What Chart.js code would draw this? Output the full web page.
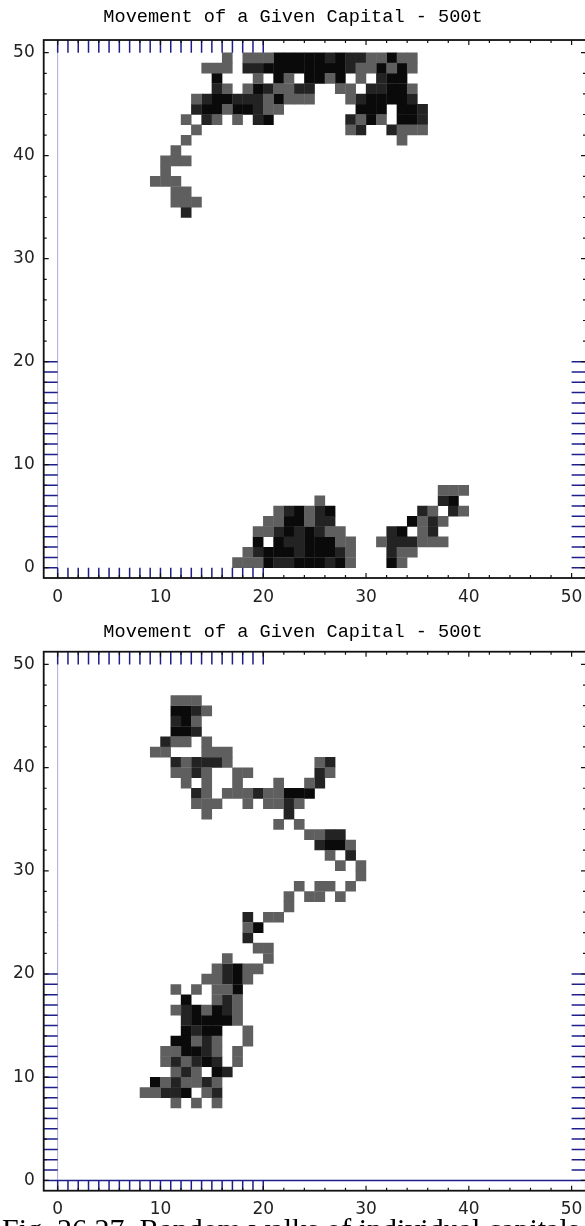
<!DOCTYPE html>
<html>
<head>
<meta charset="utf-8">
<script src="https://cdn.jsdelivr.net/npm/chart.js@4/dist/chart.umd.min.js"></script>
<style>
html,body{margin:0;padding:0;background:#fff;overflow:hidden;width:585px;height:1226px;position:relative;}
canvas{position:absolute;left:0;display:block;}
#c1{top:0;}
#c2{top:612px;}
#caption{position:absolute;left:2px;top:1214px;font-family:"Liberation Serif",serif;font-size:30px;line-height:30px;white-space:nowrap;color:#000;}
</style>
</head>
<body>
<canvas id="c1" width="600" height="612"></canvas>
<canvas id="c2" width="600" height="614"></canvas>
<div id="caption">Fig. 26.27. Random walks of individual capitals</div>
<script>
// ---------------- data ----------------
const titleText = "Movement of a Given Capital - 500t";
const xTicks = [0, 10, 20, 30, 40, 50];
const yTicks = [0, 10, 20, 30, 40, 50];

// cells given as [row, [columns...]] ; a cell covers [col,col+1] x [row,row+1]
const topGray = [
  [49,[16,18,19,20,30,31,33,34]],[48,[14,15,16,29,30,32,34]],[47,[19,22,26,29]],
  [46,[16,18,21,22,27,28,34]],[45,[13,20,22,23,24,28]],[44,[16,20,21]],
  [43,[12,15,17,29,31]],[42,[13,28,33,34,35]],[41,[12,33]],[40,[11]],
  [39,[10,11,12]],[38,[10]],[37,[9,10,11]],[36,[11,12]],[35,[11,12,13]],
  [7,[37,38,39]],[6,[25]],[5,[21,24,36,39]],[4,[20,21,24,35,37]],
  [3,[19,20,26,27,35]],[2,[27,28,31,35,36,37]],[1,[18,28,33,34]],[0,[17,18,19,28,33]]
];
const topDark = [
  [49,[26,28,29]],[48,[18,19,28]],[47,[31]],[46,[15,20,23,24,30,31]],
  [45,[14,17,18,19,29,34]],[44,[13,19,35]],[43,[14,19,28,35]],[42,[29,32]],[34,[12]],
  [6,[37]],[5,[22,25,35,38]],[4,[25,26,36]],[3,[21,23,25,32,36]],
  [2,[22,23,32,33,34]],[1,[19,23,27,32]],[0,[21,22,26]]
];
const topBlack = [
  [49,[21,22,23,24,25,27,32]],[48,[20,21,22,23,24,25,26,27,31,33]],
  [47,[15,21,24,25,27,32,33]],[46,[19,32,33]],[45,[15,16,21,30,31,32,33]],
  [44,[14,15,17,18,29,30,31,33,34]],[43,[20,30,33,34]],
  [6,[38]],[5,[23,26]],[4,[22,23,34]],[3,[22,24,33]],[2,[19,21,24,25,26]],
  [1,[20,21,22,24,25,26]],[0,[20,23,24,25,27,32]]
];

const botGray = [
  [46,[11,12,13]],[45,[14]],[44,[13]],[42,[11,12,14]],[41,[9,10,14,15,16]],
  [40,[12,16,25]],[39,[11,12,14,17,18,26]],[38,[12,14,17,21,24]],
  [37,[14,16,17,18,20,21]],[36,[13,14,15,18,20,21,23]],[35,[14]],[34,[21,23]],
  [33,[24,25]],[32,[28]],[31,[26]],[30,[27,29]],[29,[29]],[28,[23,25,26,28]],
  [27,[22,24,25,27]],[26,[22]],[25,[20,21]],[24,[18]],[22,[19,20]],[21,[16,20]],
  [20,[15,18,19]],[19,[14,15,18]],[18,[11,13,15,16]],[17,[15,17]],[16,[11,14,17]],
  [15,[17]],[14,[18]],[13,[13,15,18]],[12,[10,11,15,17]],[11,[10,12,17]],
  [10,[11,13]],[9,[10,12,13,15]],[8,[8,9,14]],[7,[11,13,15]]
];
const botDark = [
  [45,[13]],[44,[11]],[43,[13]],[42,[10]],[40,[11,13,14,15,26]],[39,[13,25]],
  [38,[25]],[37,[13,19]],[36,[22]],[35,[22]],[33,[26,27]],[32,[25]],[31,[28]],
  [25,[18]],[23,[18]],[20,[16]],[19,[16]],[17,[16]],[16,[12,16]],[15,[12]],
  [14,[13]],[13,[14]],[12,[14]],[11,[11,13,15]],[10,[12,16]],[9,[11,14]],[8,[10,11,15]]
];
const botBlack = [
  [45,[11,12]],[44,[12]],[43,[11,12]],[37,[22,23,24]],[32,[26,27]],[24,[19]],
  [20,[17]],[19,[17]],[18,[17]],[17,[12]],[16,[13,15]],[15,[13,14,15,16]],
  [14,[12,14,15]],[13,[11,12]],[12,[12,13]],[11,[14]],[10,[15]],[9,[9]],[8,[12]]
];

// ---------------- helpers ----------------
function toPoints(rows) {
  const pts = [];
  rows.forEach(([r, cols]) => cols.forEach(c => pts.push({x: c + 0.5, y: r + 0.5})));
  return pts;
}
function cellRadius(ctx) {
  const s = ctx.chart.scales.x;
  const side = Math.abs(s.getPixelForValue(1) - s.getPixelForValue(0)) + 0.4;
  return side * Math.SQRT1_2;
}
function cellDataset(rows, color) {
  return {
    data: toPoints(rows),
    pointStyle: 'rect',
    backgroundColor: color,
    borderWidth: 0,
    pointRadius: cellRadius,
    pointHoverRadius: cellRadius
  };
}

const NAVY = '#1e1e8a';

const decor = {
  id: 'decor',
  beforeDatasetsDraw(chart) {
    const {ctx, scales: {x, y}} = chart;
    ctx.save();
    ctx.strokeStyle = '#a9a9d8';
    ctx.lineWidth = 1;
    const x0 = x.getPixelForValue(0);
    ctx.beginPath();
    ctx.moveTo(x0, y.getPixelForValue(50));
    ctx.lineTo(x0, y.getPixelForValue(0));
    ctx.stroke();
    ctx.restore();
  },
  afterDatasetsDraw(chart, args, opts) {
    const {ctx, chartArea: a, scales: {x, y}} = chart;
    ctx.save();
    // blue marks in the margins between data range and frame
    ctx.strokeStyle = NAVY;
    ctx.lineWidth = 1.5;
    ctx.beginPath();
    for (let i = 0; i <= 20; i++) {
      const px = x.getPixelForValue(i);
      ctx.moveTo(px, a.top); ctx.lineTo(px, y.getPixelForValue(50));
      ctx.moveTo(px, y.getPixelForValue(0)); ctx.lineTo(px, a.bottom);
      const py = y.getPixelForValue(i);
      ctx.moveTo(a.left, py); ctx.lineTo(x.getPixelForValue(0), py);
      ctx.moveTo(x.getPixelForValue(50), py); ctx.lineTo(a.right, py);
    }
    if (opts && opts.zeroLine) {
      const py = y.getPixelForValue(0);
      ctx.moveTo(x.getPixelForValue(0), py); ctx.lineTo(a.right, py);
    }
    ctx.stroke();
    // frame
    ctx.strokeStyle = '#111';
    ctx.lineWidth = 1.8;
    ctx.strokeRect(a.left, a.top, a.right - a.left, a.bottom - a.top);
    // frame ticks (inward)
    ctx.lineWidth = 1.2;
    ctx.beginPath();
    for (let v = 0; v <= 50; v += 2) {
      const len = v % 10 === 0 ? 5 : 3;
      const px = x.getPixelForValue(v);
      ctx.moveTo(px, a.bottom); ctx.lineTo(px, a.bottom - len);
      ctx.moveTo(px, a.top); ctx.lineTo(px, a.top + len);
      const py = y.getPixelForValue(v);
      ctx.moveTo(a.left, py); ctx.lineTo(a.left + len, py);
      ctx.moveTo(a.right, py); ctx.lineTo(a.right - len, py);
    }
    ctx.stroke();
    ctx.restore();
  }
};

function makeChart(id, gray, dark, black, cfg) {
  return new Chart(document.getElementById(id), {
    type: 'scatter',
    data: {
      datasets: [
        cellDataset(gray, '#5f5f5f'),
        cellDataset(dark, '#232323'),
        cellDataset(black, '#0a0a0a')
      ]
    },
    plugins: [decor],
    options: {
      responsive: false,
      animation: false,
      events: [],
      layout: {padding: {left: 0, right: 14, top: 0, bottom: 0}},
      plugins: {
        legend: {display: false},
        tooltip: {enabled: false},
        decor: {zeroLine: cfg.zeroLine},
        title: {
          display: true,
          text: titleText,
          color: '#000',
          font: {family: '"Liberation Mono", monospace', size: 18.6, weight: 'normal', lineHeight: 1.2},
          padding: {top: cfg.titleTop, bottom: cfg.titleBottom}
        }
      },
      scales: {
        x: {
          type: 'linear', min: -1.36, max: 51.4,
          grid: {display: false, drawTicks: false},
          border: {display: false},
          afterBuildTicks: s => { s.ticks = xTicks.map(v => ({value: v})); },
          afterFit: s => { s.height = cfg.xAxisHeight; },
          ticks: {
            color: '#222', padding: 9, maxRotation: 0, autoSkip: false,
            font: {family: '"DejaVu Sans", sans-serif', size: 17},
            callback: v => String(v)
          }
        },
        y: {
          type: 'linear', min: -1.0, max: 51.23,
          grid: {display: false, drawTicks: false},
          border: {display: false},
          afterBuildTicks: s => { s.ticks = yTicks.map(v => ({value: v})); },
          afterFit: s => { s.width = 43.7; },
          ticks: {
            color: '#222', padding: 9, autoSkip: false,
            font: {family: '"DejaVu Sans", sans-serif', size: 17},
            callback: v => String(v)
          }
        }
      }
    }
  });
}

makeChart('c1', topGray, topDark, topBlack, {titleTop: 5.6, titleBottom: 12.1, xAxisHeight: 34, zeroLine: false});
makeChart('c2', botGray, botDark, botBlack, {titleTop: 9.3, titleBottom: 8.1, xAxisHeight: 35.3, zeroLine: true});
</script>
</body>
</html>
